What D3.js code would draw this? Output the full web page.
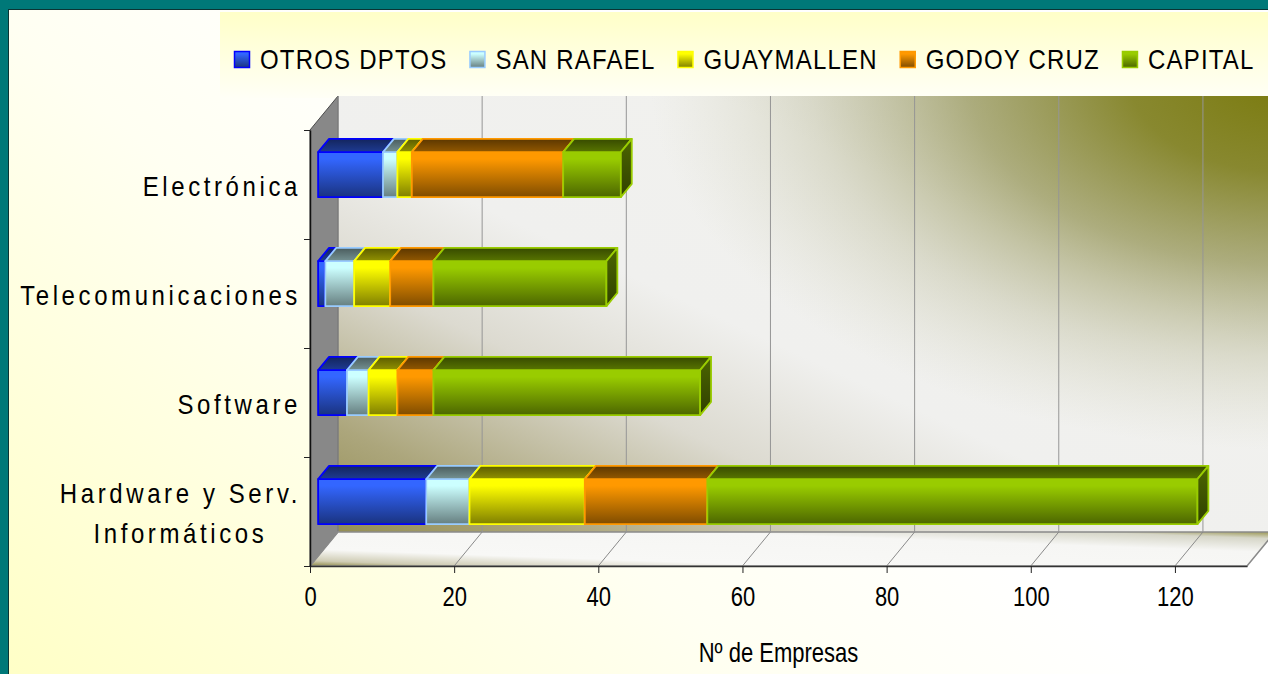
<!DOCTYPE html>
<html>
<head>
<meta charset="utf-8">
<script src="https://cdn.jsdelivr.net/npm/d3@7"></script>
<style>
  html, body { margin: 0; padding: 0; background: #007878; overflow: hidden; }
  svg { display: block; }
  text { font-family: "Liberation Sans", Arial, sans-serif; fill: #000; }
</style>
</head>
<body>
<div id="chart--wrap"></div>
<script>
;(function() {

// Data
const categories = ['Electrónica', 'Telecomunicaciones', 'Software', 'Hardware y Serv. Informáticos'];
const seriesNames = ['OTROS DPTOS', 'SAN RAFAEL', 'GUAYMALLEN', 'GODOY CRUZ', 'CAPITAL'];
const otrosDptos = [9, 1, 4, 15];
const sanRafael = [2, 4, 3, 6];
const guaymallen = [2, 5, 4, 16];
const godoyCruz = [21, 6, 5, 17];
const capital = [8, 24, 37, 68];
const xTicks = [0, 20, 40, 60, 80, 100, 120];
const xMax = 130;
const xTitle = 'Nº de Empresas';

const seriesValues = [otrosDptos, sanRafael, guaymallen, godoyCruz, capital];
const seriesStyle = [
  { light: '#3366ff', dark: '#1a3380', line: '#0000ff' },
  { light: '#ccffff', dark: '#667f80', line: '#99ccff' },
  { light: '#ffff00', dark: '#7f7f00', line: '#ffff00' },
  { light: '#ff9900', dark: '#7f4c00', line: '#ff9900' },
  { light: '#99cc00', dark: '#4c6600', line: '#99cc00' }
];

// Layout
const W = 1268, H = 674;
const front = { left: 310, right: 1247, top: 130, bottom: 566 };
const depth = { dx: 28, dy: -34 };
const barF = [0.29, 0.68];
const vScale = 1.27;

const x = d3.scaleLinear().domain([0, xMax]).range([front.left, front.right]);
const y = d3.scaleBand().domain(categories)
  .range([front.top, front.bottom])
  .paddingInner(0.587).paddingOuter(0.2935);
const yEdge = d3.scaleLinear().domain([0, categories.length]).range([front.top, front.bottom]);

const P = (px, py, f) => [px + f * depth.dx, py + f * depth.dy];
const poly = pts => 'M' + pts.map(p => p[0] + ',' + p[1]).join('L') + 'Z';

const svg = d3.select('#chart--wrap').append('svg')
  .attr('width', W)
  .attr('height', H);
const defs = svg.append('defs');

function linGrad(id, x1, y1, x2, y2, stops, units) {
  const g = defs.append('linearGradient').attr('id', id)
    .attr('x1', x1).attr('y1', y1).attr('x2', x2).attr('y2', y2);
  if (units) g.attr('gradientUnits', units);
  stops.forEach(s => g.append('stop').attr('offset', s[0]).attr('stop-color', s[1])
    .attr('stop-opacity', s[2] == null ? 1 : s[2]));
}

// Backgrounds
linGrad('bgGrad', 500, 100, 0, 674, [[0, '#ffffff'], [0.35, '#fffff2'], [1, '#ffffc6']], 'userSpaceOnUse');
linGrad('legendGrad', 0, 0, 0, 1, [[0, '#ffffc8'], [1, '#fffff6']]);
linGrad('wallGrad', 0, 1, 1, 0, [
  [0, '#948e54'], [0.12, '#aca67c'], [0.3, '#dcdad0'], [0.45, '#f0f0ee'],
  [0.7, '#f1f1ee'], [1, '#e0e0d8']
]);
linGrad('floorGrad', 0, 1, 1, 0, [
  [0, '#8f8a48'], [0.08, '#cfccb4'], [0.25, '#f8f8f6'], [0.7, '#f6f6f4'], [0.9, '#d6d6c8'], [1, '#9a9650']
]);

const cornerGrad = defs.append('radialGradient')
  .attr('id', 'cornerGrad')
  .attr('gradientUnits', 'userSpaceOnUse')
  .attr('cx', 0).attr('cy', 0).attr('r', 1)
  .attr('gradientTransform', 'translate(1290, 80) scale(640, 370)');
[[0, '#7a7a0c', 1], [0.25, '#808020', 0.92], [0.5, '#8a8a44', 0.65], [0.75, '#a0a070', 0.28], [1, '#c0c0a0', 0]]
  .forEach(s => cornerGrad.append('stop').attr('offset', s[0]).attr('stop-color', s[1]).attr('stop-opacity', s[2]));

seriesStyle.forEach((s, i) => {
  linGrad('front' + i, 0, 0, 0, 1, [[0, s.light], [0.15, s.light], [1, s.dark]]);
  linGrad('top' + i, 0, 0, 0, 1, [[0, d3.color(s.dark).darker(0.9)], [1, d3.interpolateRgb(s.dark, s.light)(0.15)]]);
  linGrad('side' + i, 0, 0, 0, 1, [[0, s.dark], [1, d3.color(s.dark).darker(1.3)]]);
});

svg.append('rect')
  .attr('x', 0).attr('y', 0).attr('width', W).attr('height', H)
  .attr('fill', '#007878');

svg.append('rect')
  .attr('x', 8.5).attr('y', 9.5).attr('width', W).attr('height', H)
  .attr('fill', 'url(#bgGrad)')
  .attr('stroke', '#0b3434');

svg.append('rect')
  .attr('x', 220).attr('y', 12).attr('width', W - 220).attr('height', 86)
  .attr('fill', 'url(#legendGrad)');

// Walls and floor
const plot = svg.append('g').attr('class', 'plot');
const wallPts = [P(x(0), front.top, 1), P(x(xMax), front.top, 1), P(x(xMax), front.bottom, 1), P(x(0), front.bottom, 1)];

plot.append('path')
  .attr('d', poly(wallPts))
  .attr('fill', 'url(#wallGrad)');

plot.append('path')
  .attr('d', poly(wallPts))
  .attr('fill', 'url(#cornerGrad)');

plot.append('path')
  .attr('d', poly([P(x(0), front.top, 0), P(x(0), front.top, 1), P(x(0), front.bottom, 1), P(x(0), front.bottom, 0)]))
  .attr('fill', '#888888')
  .attr('stroke', '#4a4a4a')
  .attr('stroke-width', 1);

plot.append('path')
  .attr('d', poly([P(x(0), front.bottom, 0), P(x(xMax), front.bottom, 0), P(x(xMax), front.bottom, 1), P(x(0), front.bottom, 1)]))
  .attr('fill', 'url(#floorGrad)')
  .attr('stroke', '#8a8a8a')
  .attr('stroke-width', 1.5);

// Grid lines
plot.selectAll('.grid-back')
  .data(xTicks)
  .enter()
  .append('line')
  .attr('class', 'grid-back')
  .attr('x1', d => P(x(d), front.top, 1)[0])
  .attr('y1', d => P(x(d), front.top, 1)[1])
  .attr('x2', d => P(x(d), front.bottom, 1)[0])
  .attr('y2', d => P(x(d), front.bottom, 1)[1])
  .attr('stroke', '#959595')
  .attr('stroke-width', 1);

plot.selectAll('.grid-floor')
  .data(xTicks)
  .enter()
  .append('line')
  .attr('class', 'grid-floor')
  .attr('x1', d => P(x(d), front.bottom, 0)[0])
  .attr('y1', d => P(x(d), front.bottom, 0)[1])
  .attr('x2', d => P(x(d), front.bottom, 1)[0])
  .attr('y2', d => P(x(d), front.bottom, 1)[1])
  .attr('stroke', '#8a8a8a')
  .attr('stroke-width', 1);

// Stacked 3D bars
const rows = categories.map((c, i) => {
  const r = { category: c };
  seriesNames.forEach((s, k) => { r[s] = seriesValues[k][i]; });
  return r;
});
const stacked = d3.stack().keys(seriesNames)(rows);

const layers = plot.selectAll('.layer')
  .data(stacked)
  .enter()
  .append('g')
  .attr('class', 'layer');

const seg = layers.selectAll('.seg')
  .data((d, k) => d.filter(p => p[1] > p[0]).map(p => ({ k: k, x0: p[0], x1: p[1], cat: p.data.category })))
  .enter()
  .append('g')
  .attr('class', 'seg')
  .attr('stroke', d => seriesStyle[d.k].line)
  .attr('stroke-width', 1.8)
  .attr('stroke-linejoin', 'round');

const f0 = barF[0], f1 = barF[1];
seg.append('path')
  .attr('d', d => {
    const a = x(d.x0), b = x(d.x1), t = y(d.cat), bt = t + y.bandwidth();
    return poly([P(a, t, f0), P(b, t, f0), P(b, bt, f0), P(a, bt, f0)]);
  })
  .attr('fill', d => `url(#front${d.k})`);

seg.append('path')
  .attr('d', d => {
    const a = x(d.x0), b = x(d.x1), t = y(d.cat);
    return poly([P(a, t, f0), P(b, t, f0), P(b, t, f1), P(a, t, f1)]);
  })
  .attr('fill', d => `url(#top${d.k})`);

seg.append('path')
  .attr('d', d => {
    const b = x(d.x1), t = y(d.cat), bt = t + y.bandwidth();
    return poly([P(b, t, f0), P(b, t, f1), P(b, bt, f1), P(b, bt, f0)]);
  })
  .attr('fill', d => `url(#side${d.k})`);

// X axis
const xAxis = d3.axisBottom(x).tickValues(xTicks).tickSizeInner(7).tickSizeOuter(0);
const gx = svg.append('g')
  .attr('class', 'x-axis')
  .attr('transform', `translate(0, ${front.bottom})`)
  .call(xAxis);
gx.select('.domain').attr('stroke', '#333').attr('stroke-width', 1.5);
gx.selectAll('.tick line').attr('stroke', '#222');
gx.selectAll('.tick text')
  .attr('y', 0).attr('dy', 0)
  .attr('transform', `translate(0, 40) scale(1, ${vScale})`)
  .style('font-size', '22px')
  .style('font-family', '"Liberation Sans", Arial, sans-serif')
  .attr('fill', '#000');

// Y axis (category boundaries)
const yAxis = d3.axisLeft(yEdge).ticks(categories.length).tickFormat('').tickSizeInner(6).tickSizeOuter(0);
const gy = svg.append('g')
  .attr('class', 'y-axis')
  .attr('transform', `translate(${front.left}, 0)`)
  .call(yAxis);
gy.select('.domain').attr('stroke', '#111').attr('stroke-width', 1.5);
gy.selectAll('.tick line').attr('stroke', '#222');

// Category labels
const labelRight = 301;
const labelSize = 24;
const labelSpacing = 3.6;
const labelScale = 1.17;
const measure = svg.append('text')
  .style('font-size', labelSize + 'px')
  .style('letter-spacing', labelSpacing + 'px');
const textW = s => { measure.text(s); return measure.node().getComputedTextLength(); };

categories.forEach(cat => {
  const words = cat.split(' ');
  const lines = [];
  let cur = '';
  words.forEach(w => {
    const tryLine = cur ? cur + ' ' + w : w;
    if (cur && textW(tryLine) > 290) { lines.push(cur); cur = w; } else { cur = tryLine; }
  });
  lines.push(cur);
  const maxW = d3.max(lines, textW);
  const cx = labelRight - maxW / 2;
  const cy = y(cat) + y.bandwidth() / 2;
  lines.forEach((ln, i) => {
    const by = cy + 11 + (i - (lines.length - 1) / 2) * 40;
    svg.append('text')
      .attr('class', 'cat-label')
      .attr('transform', `translate(${cx}, ${by}) scale(1, ${labelScale})`)
      .attr('text-anchor', 'middle')
      .style('font-size', labelSize + 'px')
      .style('letter-spacing', labelSpacing + 'px')
      .text(ln);
  });
});
measure.remove();

// Axis title
svg.append('text')
  .attr('transform', `translate(${(front.left + front.right) / 2}, 662) scale(1, ${vScale})`)
  .attr('text-anchor', 'middle')
  .style('font-size', '22px')
  .text(xTitle);

// Legend
const legend = svg.append('g').attr('class', 'legend');
let lx = 234;
seriesNames.forEach((name, k) => {
  const item = legend.append('g').attr('transform', `translate(${lx}, 0)`);
  item.append('rect')
    .attr('x', 0.5).attr('y', 51.5).attr('width', 15).attr('height', 16)
    .attr('fill', `url(#front${k})`)
    .attr('stroke', seriesStyle[k].line)
    .attr('stroke-width', 1.5);
  const t = item.append('text')
    .attr('transform', `translate(26, 69) scale(1, 1.15)`)
    .style('font-size', '24px')
    .style('letter-spacing', '1.2px')
    .text(name);
  lx += 26 + t.node().getComputedTextLength() + 22;
});

})();
</script>
</body>
</html>
